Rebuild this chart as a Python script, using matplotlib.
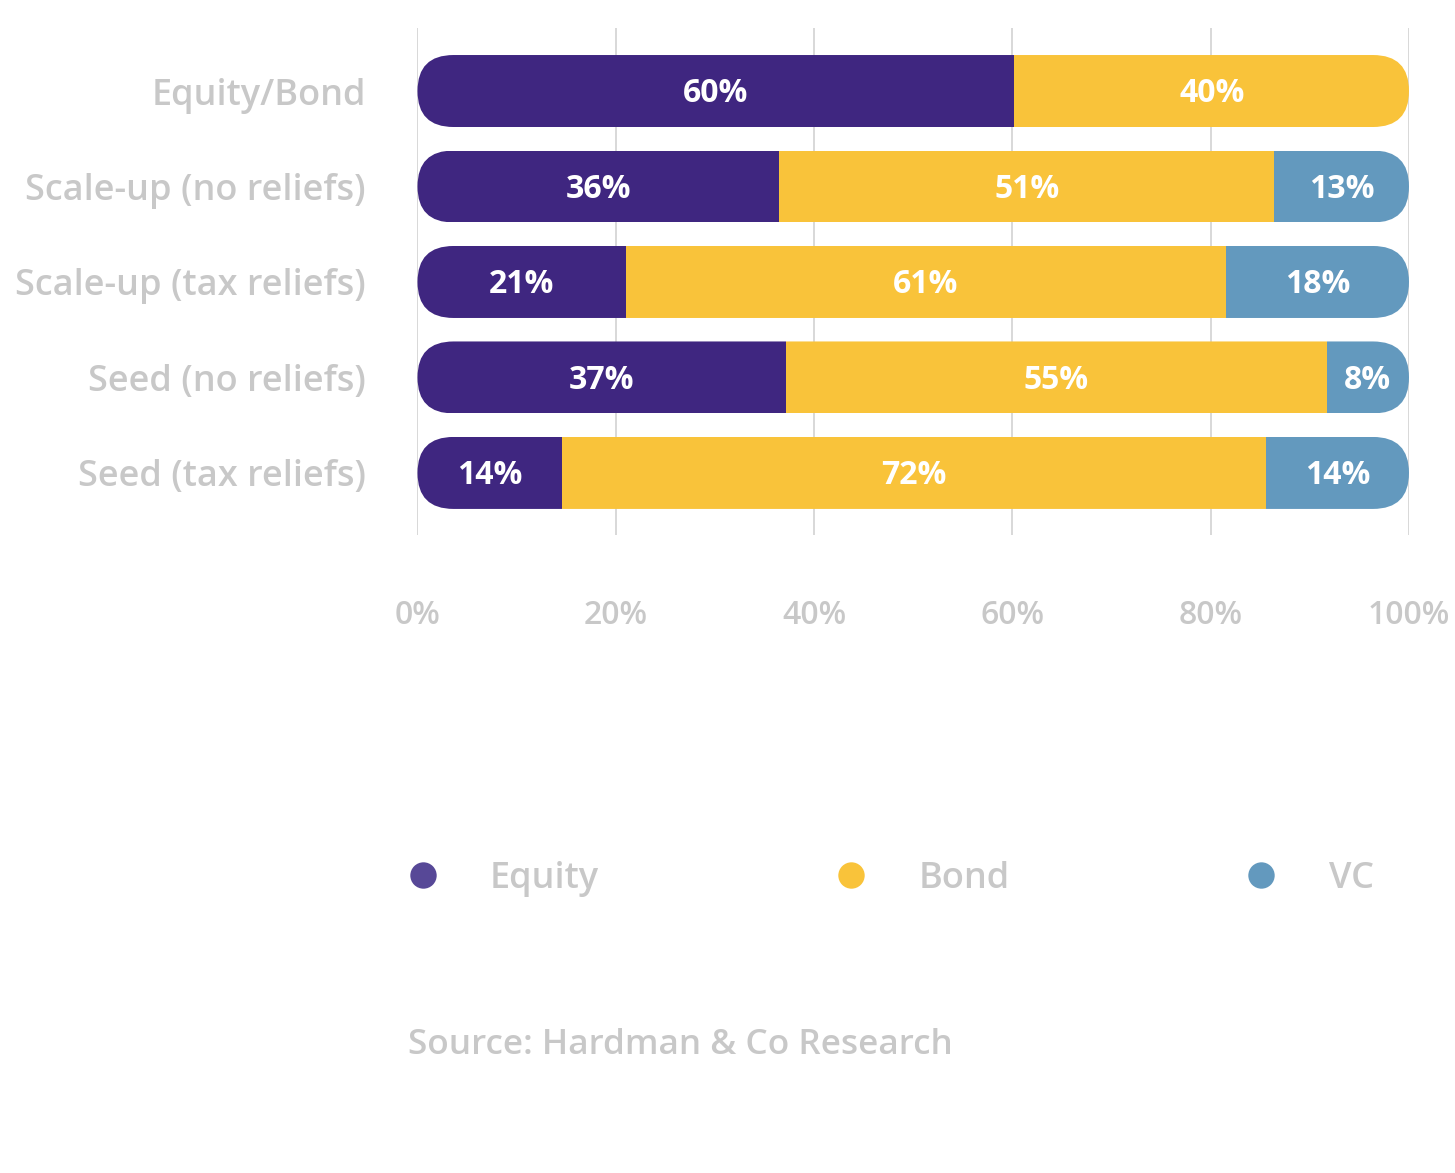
import matplotlib
matplotlib.use("Agg")
import matplotlib.pyplot as plt
from matplotlib.patches import FancyBboxPatch
from matplotlib.lines import Line2D
import numpy as np

plt.rcParams['font.family'] = ['Open Sans', 'DejaVu Sans']

# data
categories = ["Equity/Bond", "Scale-up (no reliefs)", "Scale-up (tax reliefs)",
              "Seed (no reliefs)", "Seed (tax reliefs)"]
series = ["Equity", "Bond", "VC"]
equity = [60.2, 36.5, 21.0, 37.2, 14.6]
bond = [39.8, 49.9, 60.5, 54.5, 71.0]
vc = [0.0, 13.6, 18.5, 8.3, 14.4]
equity_lbl = ["60%", "36%", "21%", "37%", "14%"]
bond_lbl = ["40%", "51%", "61%", "55%", "72%"]
vc_lbl = ["", "13%", "18%", "8%", "14%"]
ticks = [0, 20, 40, 60, 80, 100]

bar_colors = ["#3F2680", "#F9C33A", "#6399BE"]
legend_colors = ["#574897", "#F9C33A", "#6399BE"]
grey = "#C8C8C8"

W, H = 1455, 1173
fig = plt.figure(figsize=(W / 100, H / 100), dpi=100)
ax = fig.add_axes([417.5 / W, 1 - 535 / H, (1409 - 417.5) / W, (535 - 28) / H])
ax.set_xlim(0, 100)
ax.set_ylim(4.65, -0.66)

bar_h = 0.754
y = np.arange(len(categories))

# aspect between y and x data units, for round bar ends
p0 = ax.transData.transform((0, 0))
p1 = ax.transData.transform((1, 1))
aspect = abs((p1[0] - p0[0]) / (p1[1] - p0[1]))
r = bar_h / 2 / aspect

vals = [equity, bond, vc]
lbls = [equity_lbl, bond_lbl, vc_lbl]
for i in range(len(categories)):
    clip = FancyBboxPatch((0, y[i] - bar_h / 2), 100, bar_h,
                          boxstyle="round,pad=0,rounding_size=%f" % r,
                          mutation_aspect=aspect, transform=ax.transData)
    left = 0
    for s in range(3):
        v = vals[s][i]
        if v > 0:
            b = ax.barh(y[i], v, left=left, height=bar_h, color=bar_colors[s], linewidth=0)
            b[0].set_clip_path(clip)
            ax.text(left + v / 2, y[i] + 0.03, lbls[s][i], ha="center", va="center",
                    color="white", fontsize=23, fontweight="bold")
        left += v

ax.set_yticks(y)
ax.set_yticklabels(categories, fontweight="semibold")
ax.set_xticks(ticks)
ax.set_xticklabels(["%d%%" % t for t in ticks], fontweight="semibold")
ax.tick_params(axis="y", length=0, pad=37, labelsize=26, labelcolor=grey)
ax.tick_params(axis="x", length=0, pad=46, labelsize=23, labelcolor=grey)
ax.grid(axis="x", color="#D2D2D2", linewidth=1.2)
ax.set_axisbelow(True)
for sp in ax.spines.values():
    sp.set_visible(False)

handles = [Line2D([], [], linestyle="none", marker="o", markersize=19,
                  markerfacecolor=c, markeredgewidth=0) for c in legend_colors]
fig.legend(handles, series, loc="center left", bbox_to_anchor=(404.6 / W, 1 - 879 / H),
           ncol=3, frameon=False, borderpad=0, borderaxespad=0,
           prop={"size": 26, "weight": "semibold"},
           handlelength=1.0, handletextpad=1.36, columnspacing=6.48, labelcolor=grey)

fig.text(408 / W, 1 - 1045 / H, "Source: Hardman & Co Research", ha="left", va="center",
         fontsize=25.3, fontweight="semibold", color=grey)

fig.savefig("out.png", dpi=100)
